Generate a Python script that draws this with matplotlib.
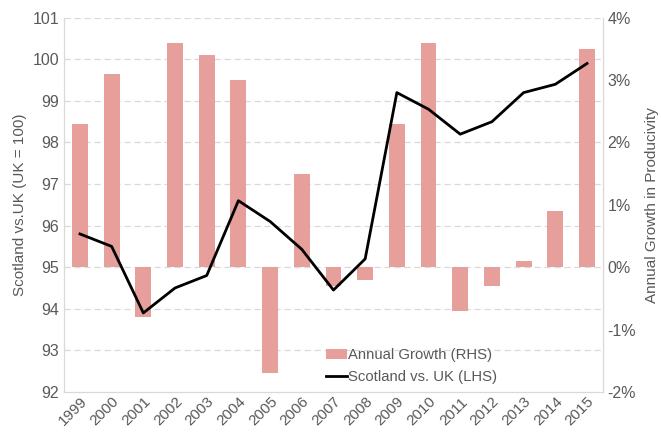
import numpy as np
import matplotlib
matplotlib.use("Agg")
from matplotlib import pyplot as plt
from matplotlib.ticker import FuncFormatter

plt.rcParams['font.family'] = ['Liberation Sans', 'DejaVu Sans']

# data
years = [str(y) for y in range(1999, 2016)]
growth = [2.3, 3.1, -0.8, 3.6, 3.4, 3.0, -1.7, 1.5, -0.3, -0.2,
          2.3, 3.6, -0.7, -0.3, 0.1, 0.9, 3.5]
relative = [95.8, 95.5, 93.9, 94.5, 94.8, 96.6, 96.1, 95.43, 94.45, 95.2,
            99.2, 98.8, 98.2, 98.5, 99.2, 99.4, 99.9]

grey = "#595959"
spine_c = "#d9d9d9"

fig = plt.figure(figsize=(6.61, 4.34), dpi=100)
ax = fig.add_axes([0.097, 0.097, 0.815, 0.862])
ax2 = ax.twinx()

x = np.arange(len(years))

# bars on the right axis
b = ax2.bar(x, growth, width=0.5, color="#e69f9a", label="Annual Growth (RHS)", zorder=2)
ax2.set_ylim(-2, 4)
ax2.set_yticks(np.arange(-2, 5, 1))
ax2.yaxis.set_major_formatter(FuncFormatter(lambda v, p: "%d%%" % v))
ax2.set_ylabel("Annual Growth in Producivity", color=grey, fontsize=11, labelpad=6)

# line on the left axis, drawn above the bars
ax.set_zorder(ax2.get_zorder() + 1)
ax.patch.set_visible(False)
ax2.patch.set_visible(True)
ax2.patch.set_facecolor("white")
ln, = ax.plot(x, relative, color="black", lw=2, label="Scotland vs. UK (LHS)")
ax.set_ylim(92, 101)
ax.set_yticks(range(92, 102))
ax.set_xlim(-0.5, len(years) - 0.5)
ax.set_xticks(x)
ax.set_xticklabels(years, rotation=45, ha="right", rotation_mode="anchor")
ax.set_ylabel("Scotland vs.UK (UK = 100)", color=grey, fontsize=11)

# gridlines
for v in range(93, 102):
    ax2.axhline((v - 95) / 1.5, color="#d9d9d9", lw=0.9, ls=(0, (5, 3)), zorder=0)

for a in (ax, ax2):
    a.tick_params(colors=grey, labelsize=11.5, length=0)
    for s in a.spines.values():
        s.set_color(spine_c)
    a.spines["top"].set_visible(False)
ax.tick_params(axis="x", pad=2, labelsize=11)

leg = ax.legend([b, ln], ["Annual Growth (RHS)", "Scotland vs. UK (LHS)"],
                loc="lower center", bbox_to_anchor=(0.645, -0.015), frameon=False,
                fontsize=10.7, handlelength=1.4, handletextpad=0.1,
                labelspacing=0.55, labelcolor=grey)

fig.savefig("out.png", dpi=100)
